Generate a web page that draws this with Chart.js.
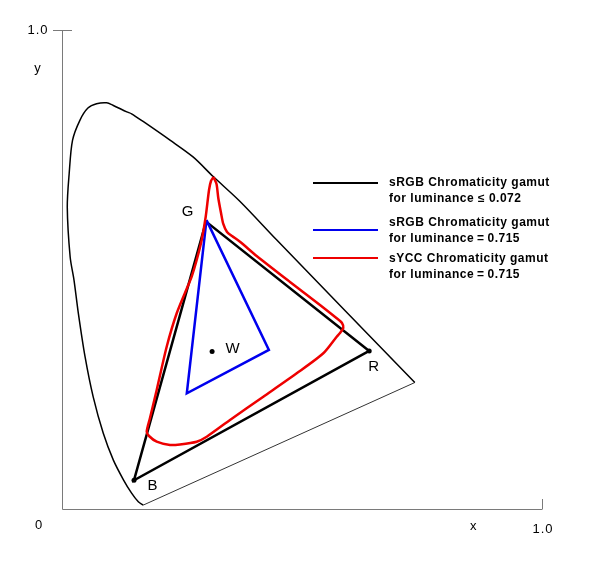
<!DOCTYPE html>
<html lang="en">

<head>
    <meta charset="UTF-8">
    <title>sRGB / sYCC Chromaticity Gamut</title>
    <script src="https://cdn.jsdelivr.net/npm/chart.js"></script>
    <style>
        body { margin: 0; background: #fff; }
    </style>
</head>

<body>
    <canvas id="gamutChart" width="601" height="571"></canvas>

    <script>
        // Spectral locus, blue end -> top -> red end
        const locusX = [0.169, 0.159, 0.145, 0.128, 0.107, 0.086, 0.065, 0.048, 0.034, 0.025, 0.017, 0.011,
            0.015, 0.022, 0.0375, 0.054, 0.072, 0.093, 0.106, 0.135, 0.145, 0.169, 0.225, 0.273, 0.315,
            0.371, 0.447, 0.735];
        const locusY = [0.008, 0.015, 0.033, 0.061, 0.102, 0.158, 0.234, 0.318, 0.409, 0.478, 0.526, 0.630,
            0.701, 0.770, 0.812, 0.837, 0.846, 0.848, 0.843, 0.829, 0.825, 0.809, 0.770, 0.735, 0.694,
            0.642, 0.562, 0.264];

        // Line of purples (red end back to blue end)
        const purpleX = [0.735, 0.169];
        const purpleY = [0.264, 0.008];

        // sRGB primaries and white point
        const primaryNames = ['R', 'G', 'B'];
        const primaryX = [0.64, 0.30, 0.15];
        const primaryY = [0.33, 0.60, 0.06];
        const whiteX = 0.3127;
        const whiteY = 0.329;

        // sRGB gamut at luminance 0.715
        const blueX = [0.301, 0.431, 0.260];
        const blueY = [0.603, 0.332, 0.2415];

        // sYCC gamut at luminance 0.715
        const syccX = [0.3156, 0.3219, 0.3256, 0.3313, 0.3360, 0.3438, 0.3542, 0.3708, 0.4056, 0.4750,
            0.5375, 0.5723, 0.5833, 0.5860, 0.5792, 0.5723, 0.5444, 0.4890, 0.4194, 0.3500, 0.3015,
            0.2806, 0.2458, 0.2250, 0.1973, 0.1813, 0.1765, 0.1833, 0.1973, 0.2181, 0.2390, 0.2631,
            0.2702, 0.2806, 0.2910, 0.2994, 0.3063, 0.3104, 0.3156];
        const syccY = [0.6931, 0.6785, 0.6493, 0.6180, 0.5950, 0.5783, 0.5699, 0.5580, 0.5282, 0.4739,
            0.4259, 0.3981, 0.3883, 0.3779, 0.3674, 0.3597, 0.3251, 0.2833, 0.2344, 0.1858, 0.1509,
            0.1405, 0.1347, 0.1336, 0.1405, 0.1524, 0.1614, 0.1900, 0.2484, 0.3388, 0.4086, 0.4676,
            0.4850, 0.5198, 0.5616, 0.6102, 0.6660, 0.6848, 0.6931];

        const legendLabels = [
            ['sRGB Chromaticity gamut', 'for luminance \u2264 0.072'],
            ['sRGB Chromaticity gamut', 'for luminance\u2009=\u20090.715'],
            ['sYCC Chromaticity gamut', 'for luminance\u2009=\u20090.715']
        ];
        const legendColors = ['#000000', '#0000ee', '#ee0000'];

        function toPoints(xs, ys) {
            return xs.map((x, i) => ({ x: x, y: ys[i] }));
        }

        const triangle = toPoints(primaryX.concat(primaryX[0]), primaryY.concat(primaryY[0]));
        const blueTri = toPoints(blueX.concat(blueX[0]), blueY.concat(blueY[0]));

        // Axes, labels and legend drawn on top of the library's scales
        const decorations = {
            id: 'decorations',
            afterDatasetsDraw(chart) {
                const ctx = chart.ctx;
                const sx = chart.scales.x;
                const sy = chart.scales.y;
                const x0 = sx.getPixelForValue(0), x1 = sx.getPixelForValue(1);
                const y0 = sy.getPixelForValue(0), y1 = sy.getPixelForValue(1);

                ctx.save();
                ctx.strokeStyle = '#7a7a7a';
                ctx.lineWidth = 1;
                ctx.beginPath();
                ctx.moveTo(x0 + 0.5, y1 + 0.5);
                ctx.lineTo(x0 + 0.5, y0 + 0.5);
                ctx.lineTo(x1 + 0.5, y0 + 0.5);
                ctx.moveTo(x0 - 9, y1 + 0.5);
                ctx.lineTo(x0 + 10, y1 + 0.5);
                ctx.moveTo(x1 + 0.5, y0 - 10);
                ctx.lineTo(x1 + 0.5, y0);
                ctx.stroke();

                ctx.fillStyle = '#000';
                ctx.textBaseline = 'middle';
                ctx.letterSpacing = '1px';
                ctx.font = '13px "Liberation Sans", Arial, sans-serif';
                ctx.textAlign = 'center';
                ctx.fillText('1.0', x0 - 24, y1);
                ctx.fillText('y', x0 - 24, y1 + 38);
                ctx.fillText('0', x0 - 23, y0 + 16);
                ctx.fillText('x', sx.getPixelForValue(0.858), y0 + 17);
                ctx.fillText('1.0', x1 + 1, y0 + 20);

                // vertex labels
                ctx.font = '15px "Liberation Sans", Arial, sans-serif';
                const offs = { R: [5, 16], G: [-18, -10], B: [19, 6] };
                primaryNames.forEach((n, i) => {
                    const px = sx.getPixelForValue(primaryX[i]);
                    const py = sy.getPixelForValue(primaryY[i]);
                    ctx.fillText(n, px + offs[n][0], py + offs[n][1]);
                });
                ctx.fillText('W', sx.getPixelForValue(whiteX) + 21, sy.getPixelForValue(whiteY) - 3);

                // legend
                const lineY = [183, 230, 258];
                const textY = [183, 223, 259];
                ctx.textAlign = 'left';
                ctx.letterSpacing = '0.5px';
                ctx.font = 'bold 12px "Liberation Sans", Arial, sans-serif';
                legendLabels.forEach((lines, i) => {
                    ctx.strokeStyle = legendColors[i];
                    ctx.lineWidth = 2;
                    ctx.beginPath();
                    ctx.moveTo(313, lineY[i]);
                    ctx.lineTo(378, lineY[i]);
                    ctx.stroke();
                    ctx.fillText(lines[0], 389, textY[i]);
                    ctx.fillText(lines[1], 389, textY[i] + 16);
                });
                ctx.restore();
            }
        };

        const ctx = document.getElementById('gamutChart').getContext('2d');
        const chart = new Chart(ctx, {
            type: 'scatter',
            data: {
                datasets: [
                    {
                        label: 'sYCC',
                        data: toPoints(syccX, syccY),
                        showLine: true,
                        borderColor: '#ee0000',
                        borderWidth: 2.5,
                        pointRadius: 0,
                        tension: 0.25,
                        order: 1
                    },
                    {
                        label: 'sRGB 0.715',
                        data: blueTri,
                        showLine: true,
                        borderColor: '#0000ee',
                        borderWidth: 2.5,
                        pointRadius: 0,
                        order: 2
                    },
                    {
                        label: 'sRGB 0.072',
                        data: triangle,
                        showLine: true,
                        borderColor: '#000',
                        borderWidth: 2.5,
                        pointRadius: 0,
                        order: 3
                    },
                    {
                        label: 'locus',
                        data: toPoints(locusX, locusY),
                        showLine: true,
                        borderColor: '#000',
                        borderWidth: 1.5,
                        pointRadius: 0,
                        tension: 0.3,
                        order: 4
                    },
                    {
                        label: 'purples',
                        data: toPoints(purpleX, purpleY),
                        showLine: true,
                        borderColor: '#333',
                        borderWidth: 1,
                        pointRadius: 0,
                        order: 5
                    },
                    {
                        label: 'points',
                        data: [
                            { x: primaryX[0], y: primaryY[0] },
                            { x: primaryX[2], y: primaryY[2] },
                            { x: whiteX, y: whiteY }
                        ],
                        showLine: false,
                        pointRadius: 2.5,
                        pointBackgroundColor: '#000',
                        pointBorderWidth: 0,
                        order: 0
                    }
                ]
            },
            options: {
                responsive: false,
                animation: false,
                layout: {
                    padding: { left: 62, right: 59, top: 30, bottom: 62 }
                },
                plugins: {
                    legend: { display: false },
                    tooltip: { enabled: false }
                },
                scales: {
                    x: { type: 'linear', min: 0, max: 1, display: false },
                    y: { type: 'linear', min: 0, max: 1, display: false }
                }
            },
            plugins: [decorations]
        });
    </script>
</body>

</html>
